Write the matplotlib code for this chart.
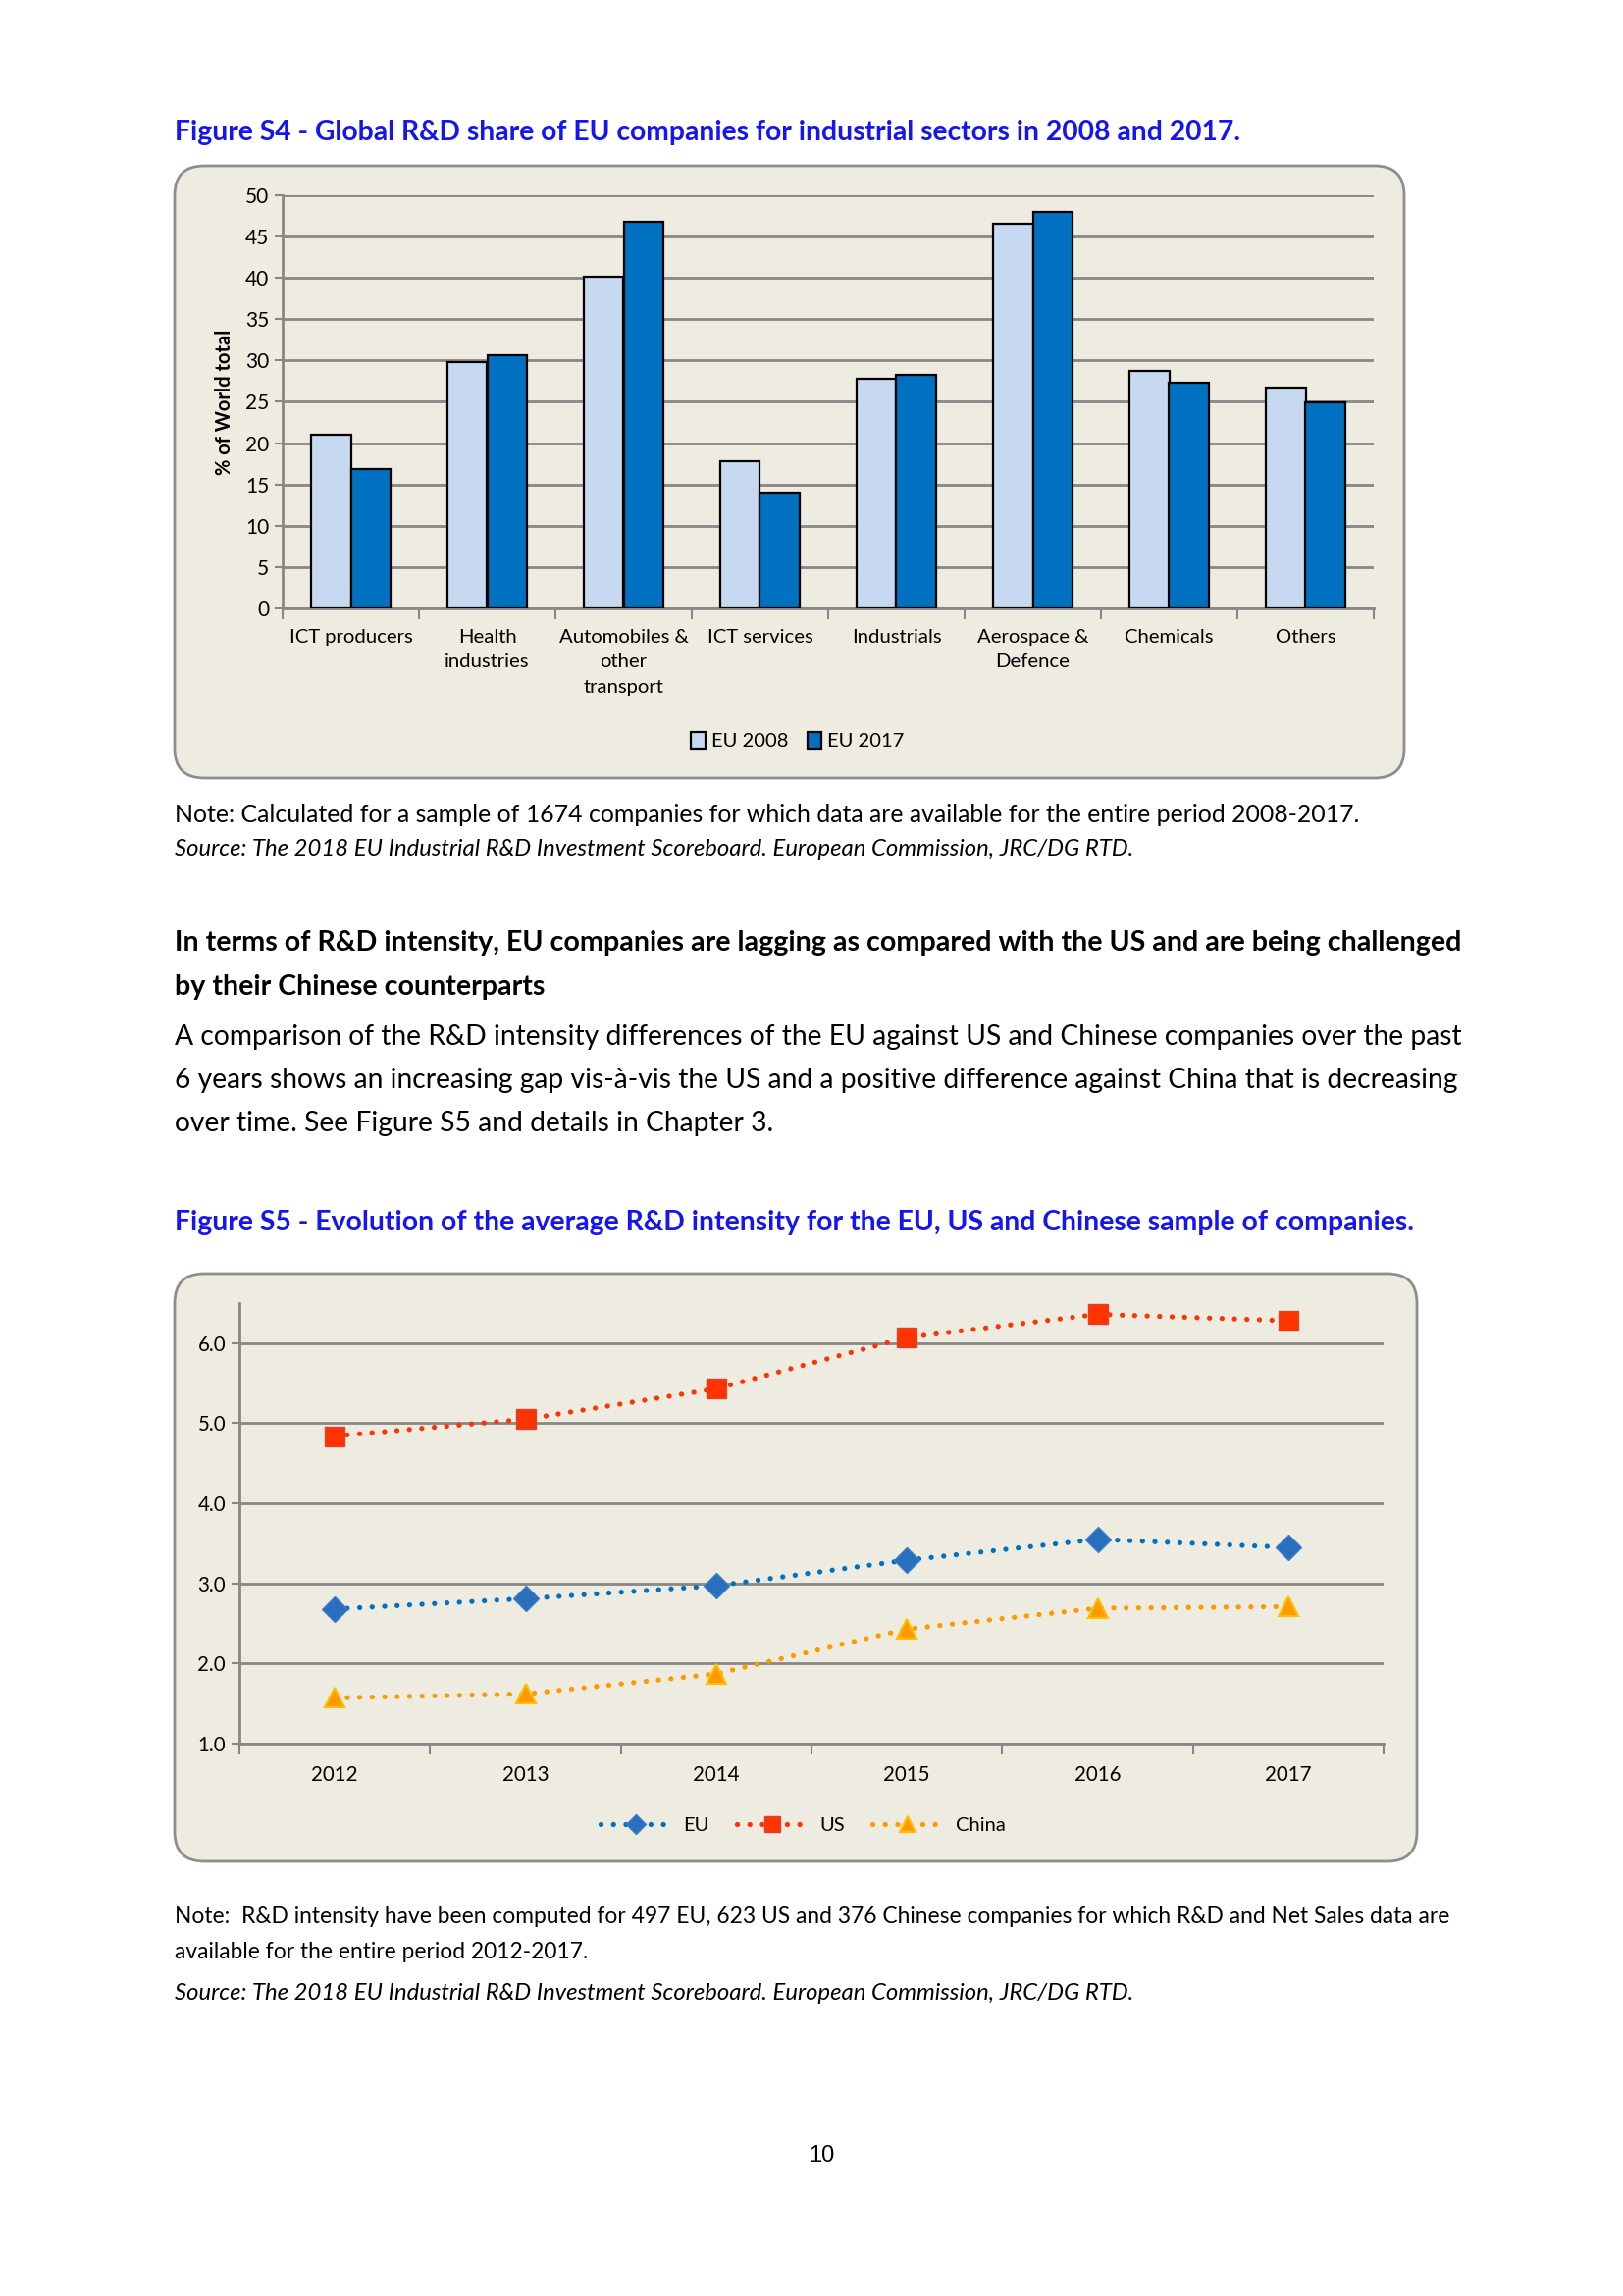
import numpy as np
import matplotlib
matplotlib.use("Agg")
import matplotlib.pyplot as plt
from matplotlib.patches import FancyBboxPatch

W, H = 1654, 2340

# Figure S4 data
sectors = ["ICT producers", "Health\nindustries", "Automobiles &\nother\ntransport",
           "ICT services", "Industrials", "Aerospace &\nDefence", "Chemicals", "Others"]
eu_2008 = [21.0, 29.8, 40.2, 17.8, 27.8, 46.6, 28.8, 26.7]
eu_2017 = [16.9, 30.6, 46.8, 14.0, 28.3, 48.0, 27.3, 24.9]

# Figure S5 data
years = ["2012", "2013", "2014", "2015", "2016", "2017"]
eu_int = [2.68, 2.81, 2.97, 3.29, 3.55, 3.45]
us_int = [4.84, 5.05, 5.43, 6.07, 6.36, 6.28]
cn_int = [1.57, 1.62, 1.87, 2.43, 2.69, 2.71]

plt.rcParams['font.family'] = ['Lato', 'DejaVu Sans']

BEIGE = "#EEEBE1"
GRID = "#878787"
TITLE_BLUE = "#1515F0"

fig = plt.figure(figsize=(W / 100, H / 100), dpi=100)
fig.patch.set_facecolor("white")

# page layer in pixel coords
bg = fig.add_axes([0, 0, 1, 1], zorder=0)
bg.set_xlim(0, W)
bg.set_ylim(H, 0)
bg.axis("off")

def px_axes(left, top, right, bottom):
    return fig.add_axes([left / W, 1 - bottom / H, (right - left) / W, (bottom - top) / H], zorder=2)

# ---- text on page ----
bg.text(178, 135, "Figure S4 - Global R&D share of EU companies for industrial sectors in 2008 and 2017.",
        fontsize=20.3, fontweight="bold", color=TITLE_BLUE, va="center")
bg.text(178, 830, "Note: Calculated for a sample of 1674 companies for which data are available for the entire period 2008-2017.",
        fontsize=17.9, color="black", va="center")
bg.text(178, 866, "Source: The 2018 EU Industrial R&D Investment Scoreboard. European Commission, JRC/DG RTD.",
        fontsize=17.2, style="italic", color="black", va="center")
bg.text(178, 961, "In terms of R&D intensity, EU companies are lagging as compared with the US and are being challenged",
        fontsize=20.6, fontweight="bold", va="center")
bg.text(178, 1006, "by their Chinese counterparts", fontsize=20.6, fontweight="bold", va="center")
para = ["A comparison of the R&D intensity differences of the EU against US and Chinese companies over the past",
        "6 years shows an increasing gap vis-à-vis the US and a positive difference against China that is decreasing",
        "over time. See Figure S5 and details in Chapter 3."]
for i, line in enumerate(para):
    bg.text(178, 1057 + i * 44.2, line, fontsize=20.3, va="center")
bg.text(178, 1246, "Figure S5 - Evolution of the average R&D intensity for the EU, US and Chinese sample of companies.",
        fontsize=20.4, fontweight="bold", color=TITLE_BLUE, va="center")
bg.text(178, 1953, "Note:  R&D intensity have been computed for 497 EU, 623 US and 376 Chinese companies for which R&D and Net Sales data are",
        fontsize=16.4, va="center")
bg.text(178, 1990, "available for the entire period 2012-2017.", fontsize=16.4, va="center")
bg.text(178, 2032, "Source: The 2018 EU Industrial R&D Investment Scoreboard. European Commission, JRC/DG RTD.",
        fontsize=17.2, style="italic", va="center")
bg.text(837, 2197, "10", fontsize=17, family="Liberation Sans", ha="center", va="center")

# chart frames
for (x0, y0, x1, y1) in [(178, 169, 1431, 793), (178, 1298, 1444, 1897)]:
    bg.add_patch(FancyBboxPatch((x0, y0), x1 - x0, y1 - y0,
                                boxstyle="round,pad=0,rounding_size=30",
                                fc=BEIGE, ec="#8E8E8E", lw=2))

# ---- Figure S4 bar chart ----
ax1 = px_axes(288, 199, 1400, 620)
ax1.set_facecolor("none")
x = np.arange(len(sectors))
w = 0.29
ax1.bar(x - w / 2, eu_2008, w, color="#C6D9F1", edgecolor="black", lw=1.6, label="EU 2008", zorder=3)
ax1.bar(x + w / 2, eu_2017, w, color="#0070C0", edgecolor="black", lw=1.6, label="EU 2017", zorder=3)
ax1.set_xlim(-0.5, len(sectors) - 0.5)
ax1.set_ylim(0, 50)
ax1.set_yticks(np.arange(0, 51, 5))
ax1.yaxis.grid(True, color=GRID, lw=2)
ax1.set_axisbelow(True)
ax1.set_xticks(x)
ax1.set_xticklabels(sectors, fontsize=14.6, linespacing=1.6)
ax1.set_xticks(np.arange(-0.5, len(sectors)), minor=True)
ax1.tick_params(axis="x", which="major", length=0, pad=15)
ax1.tick_params(axis="x", which="minor", length=8, width=1.5, color=GRID, direction="out")
ax1.tick_params(axis="y", length=6, width=1.5, color=GRID, labelsize=15, pad=4)
for s in ["top", "right"]:
    ax1.spines[s].set_visible(False)
for s in ["left", "bottom"]:
    ax1.spines[s].set_color(GRID)
    ax1.spines[s].set_linewidth(2)
ax1.set_ylabel("% of World total", fontsize=14.5, fontweight="bold", labelpad=8)
ax1.legend(loc="center", bbox_to_anchor=(813 / W, 1 - 755 / H), bbox_transform=fig.transFigure,
           ncol=2, frameon=False, fontsize=14.5, handlelength=0.7, handleheight=0.9,
           handletextpad=0.3, columnspacing=1.0)

# ---- Figure S5 line chart ----
ax2 = px_axes(244, 1328, 1410, 1777)
ax2.set_facecolor("none")
xi = np.arange(len(years))
dot = (0, (0.01, 2.4))
ax2.plot(xi, eu_int, color="#0070C0", lw=3.8, ls=dot, dash_capstyle="round",
         marker="D", ms=13, mfc="#2A6EBF", mec="#3C7CC8", mew=1, label="EU", zorder=3)
ax2.plot(xi, us_int, color="#FF3300", lw=3.8, ls=dot, dash_capstyle="round",
         marker="s", ms=14, mfc="#FF3300", mec="#D9452E", mew=1, label="US", zorder=3)
ax2.plot(xi, cn_int, color="#FF9900", lw=3.8, ls=dot, dash_capstyle="round",
         marker="^", ms=15, mfc="#FF9900", mec="#FFC000", mew=1.5, label="China", zorder=3)
ax2.set_xlim(-0.5, len(years) - 0.5)
ax2.set_ylim(1, 6.5)
ax2.set_yticks(np.arange(1, 7, 1))
ax2.set_yticklabels([f"{v:.1f}" for v in np.arange(1, 7, 1)])
ax2.yaxis.grid(True, color=GRID, lw=2)
ax2.set_axisbelow(True)
ax2.set_xticks(xi)
ax2.set_xticklabels(years, fontsize=14.8)
ax2.set_xticks(np.arange(-0.5, len(years)), minor=True)
ax2.tick_params(axis="x", which="major", length=0, pad=16)
ax2.tick_params(axis="x", which="minor", length=8, width=1.5, color=GRID, direction="out")
ax2.tick_params(axis="y", length=6, width=1.5, color=GRID, labelsize=14.8, pad=4)
for s in ["top", "right"]:
    ax2.spines[s].set_visible(False)
for s in ["left", "bottom"]:
    ax2.spines[s].set_color(GRID)
    ax2.spines[s].set_linewidth(2)
ax2.legend(loc="center", bbox_to_anchor=(818 / W, 1 - 1860 / H), bbox_transform=fig.transFigure,
           ncol=3, frameon=False, fontsize=14.5, handlelength=3.6, numpoints=1,
           markerscale=0.8, handletextpad=0.6, columnspacing=1.4)

fig.savefig("out.png", dpi=100, facecolor="white")
